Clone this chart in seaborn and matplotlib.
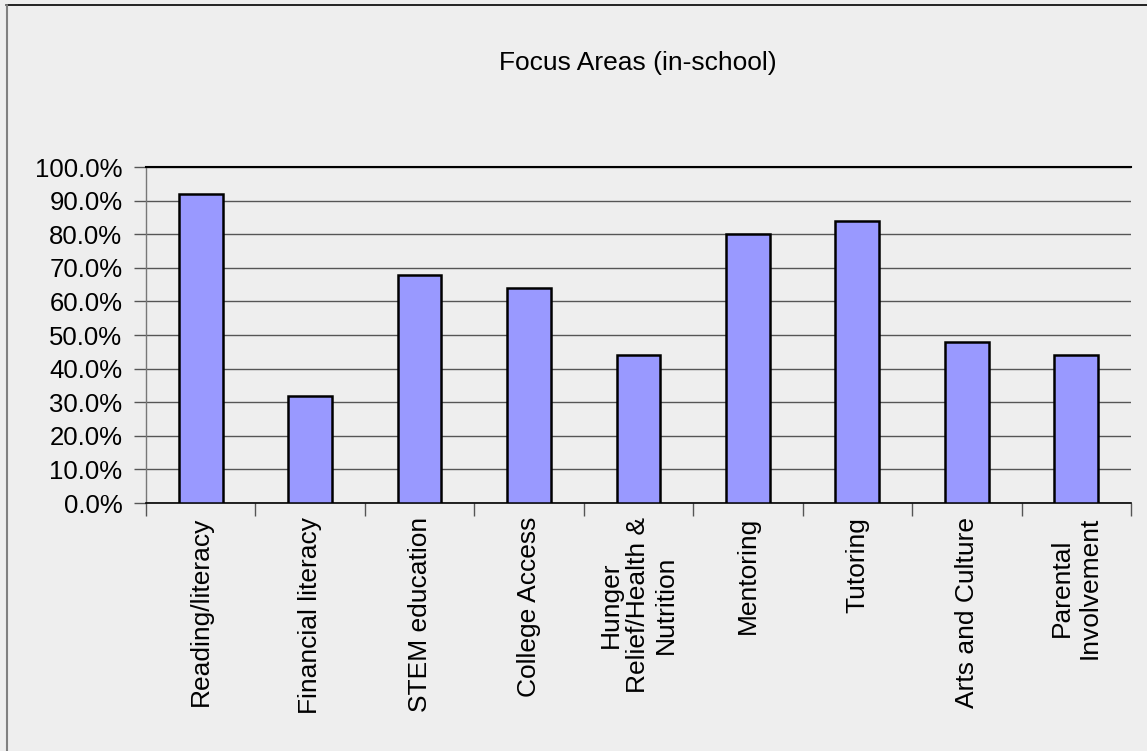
import matplotlib
matplotlib.use('Agg')
import matplotlib.pyplot as plt
import seaborn as sns
import pandas as pd
import numpy as np
from matplotlib.ticker import FuncFormatter, FixedLocator
from matplotlib.lines import Line2D

# データ
categories = [
    'Reading/literacy',
    'Financial literacy',
    'STEM education',
    'College Access',
    'Hunger\nRelief/Health &\nNutrition',
    'Mentoring',
    'Tutoring',
    'Arts and Culture',
    'Parental\nInvolvement',
]
values = [0.92, 0.32, 0.68, 0.64, 0.44, 0.80, 0.84, 0.48, 0.44]
y_ticks = [0.0, 0.1, 0.2, 0.3, 0.4, 0.5, 0.6, 0.7, 0.8, 0.9, 1.0]
title = 'Focus Areas (in-school)'

bg = '#eeeeee'
bar_color = '#9999ff'

sns.set_style('white')
plt.rcParams['font.family'] = ['Liberation Sans', 'DejaVu Sans']
plt.rcParams['text.color'] = 'black'
plt.rcParams['xtick.color'] = 'black'
plt.rcParams['ytick.color'] = 'black'

df = pd.DataFrame({'category': categories, 'value': values})

fig = plt.figure(figsize=(11.47, 7.51), dpi=100, facecolor=bg)
ax = fig.add_axes([0.1273, 0.3302, 0.986 - 0.1273, 0.7776 - 0.3302])
ax.set_facecolor(bg)

sns.barplot(data=df, x='category', y='value', color=bar_color, width=0.4,
            edgecolor='black', linewidth=1.8, saturation=1, ax=ax, zorder=3)

ax.set_xlim(-0.5, len(categories) - 0.5)
ax.set_ylim(0, 1.0)

# y軸
ax.yaxis.set_major_locator(FixedLocator(y_ticks))
ax.yaxis.set_major_formatter(FuncFormatter(lambda v, p: f'{v * 100:.1f}%'))
ax.tick_params(axis='y', direction='out', length=9, width=1, color='#555555',
               labelcolor='black', labelsize=18.5, pad=8, left=True)
ax.grid(axis='y', color='#555555', linewidth=1, zorder=0)
ax.set_axisbelow(True)

# x軸: ラベルは中央、目盛り線はカテゴリの境界
ax.set_xticks(range(len(categories)))
ax.set_xticklabels(categories, rotation=90, ha='center', va='top',
                   multialignment='center', fontsize=19)
ax.tick_params(axis='x', which='major', length=0, pad=10, labelcolor='black')
ax.set_xticks(np.arange(-0.5, len(categories), 1.0), minor=True)
ax.tick_params(axis='x', which='minor', direction='out', length=9, width=1,
               color='#555555', bottom=True)

ax.set_xlabel('')
ax.set_ylabel('')

ax.spines['right'].set_visible(False)
ax.spines['top'].set_color('black')
ax.spines['top'].set_linewidth(1.5)
ax.spines['bottom'].set_color('black')
ax.spines['bottom'].set_linewidth(1.2)
ax.spines['left'].set_color('#777777')
ax.spines['left'].set_linewidth(1)

# タイトル
fig.text(0.5565, 1 - 63 / 751, title, ha='center', va='center', fontsize=19,
         color='black')

# 外枠（上と左のみ見える）
fig.add_artist(Line2D([6 / 1147, 1.0], [1 - 5 / 751, 1 - 5 / 751],
                      transform=fig.transFigure, color='black', linewidth=1.2))
fig.add_artist(Line2D([7 / 1147, 7 / 1147], [0, 1 - 5 / 751],
                      transform=fig.transFigure, color='#808080', linewidth=1.5))

fig.savefig('out.png', dpi=100, facecolor=bg)
